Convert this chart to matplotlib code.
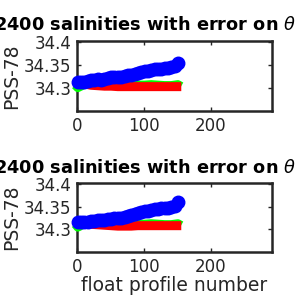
import numpy as np
import matplotlib.pyplot as plt

prof_blue = [1, 6, 11, 16, 21, 26, 31, 36, 41, 46, 51, 56, 61, 66, 71, 76, 81, 86, 91, 96,
             101, 106, 111, 116, 121, 126, 131, 136, 141, 146, 151]
prof_line = [-3, 1, 11, 21, 31, 41, 51, 61, 71, 81, 91, 101, 111, 121, 131, 141, 151, 156]

# top panel
blue_top = [34.313, 34.313, 34.314, 34.315, 34.317, 34.318, 34.320, 34.318, 34.320, 34.322,
            34.323, 34.324, 34.324, 34.325, 34.327, 34.328, 34.329, 34.331, 34.333, 34.335,
            34.337, 34.338, 34.340, 34.341, 34.342, 34.342, 34.343, 34.344, 34.345, 34.348, 34.355]
red_top = [34.313, 34.312, 34.309, 34.306, 34.305, 34.304, 34.304, 34.303, 34.303, 34.303,
           34.303, 34.303, 34.303, 34.303, 34.303, 34.303, 34.303, 34.303]
green_top = [34.306, 34.300, 34.307, 34.307, 34.307, 34.307, 34.307, 34.307, 34.307, 34.307,
             34.307, 34.307, 34.308, 34.307, 34.306, 34.306, 34.308, 34.304]

# bottom panel
blue_bot = [34.315, 34.315, 34.316, 34.317, 34.318, 34.319, 34.320, 34.320, 34.321, 34.322,
            34.323, 34.324, 34.325, 34.326, 34.328, 34.330, 34.332, 34.334, 34.336, 34.338,
            34.340, 34.341, 34.343, 34.344, 34.345, 34.346, 34.347, 34.348, 34.349, 34.352, 34.360]
red_bot = [34.316, 34.315, 34.313, 34.311, 34.310, 34.309, 34.308, 34.307, 34.307, 34.307,
           34.308, 34.308, 34.308, 34.308, 34.308, 34.308, 34.308, 34.308]
green_bot = [34.311, 34.304, 34.312, 34.312, 34.312, 34.312, 34.312, 34.311, 34.311, 34.311,
             34.311, 34.312, 34.313, 34.312, 34.311, 34.311, 34.313, 34.309]

title = '2400 salinities with error on $\\theta$'
ink = '#262626'

fig = plt.figure(figsize=(3, 3), dpi=100)
panels = [
    ([0.257, 0.630, 0.650, 0.233], blue_top, red_top, green_top, 0.917),
    ([0.257, 0.160, 0.650, 0.230], blue_bot, red_bot, green_bot, 0.440),
]

for i, (rect, blue, red, green, ty) in enumerate(panels):
    ax = fig.add_axes(rect)
    ax.plot(prof_line, green, color='#00ff00', lw=6, solid_capstyle='butt', clip_on=False)
    ax.plot(prof_line, red, color='red', lw=6.5, solid_capstyle='butt', clip_on=False)
    ax.plot(prof_blue, blue, 'o-', color='blue', ms=9, lw=6, clip_on=False)
    ax.set_xlim(0, 292)
    ax.set_ylim(34.25, 34.402)
    ax.set_xticks([0, 100, 200])
    ax.set_yticks([34.3, 34.35, 34.4])
    ax.set_yticklabels(['34.3', '34.35', '34.4'])
    ax.tick_params(direction='in', length=3, width=1, colors=ink, labelsize=12,
                   top=True, right=True, pad=4)
    for s in ax.spines.values():
        s.set_color(ink)
        s.set_linewidth(1.8)
        s.set_zorder(1)
    ax.set_ylabel('PSS-78', fontsize=13.5, color=ink, labelpad=2)
    if i == 1:
        ax.set_xlabel('float profile number', fontsize=13.5, color=ink, labelpad=0)
    fig.text(0.987, ty, title, ha='right', va='center', fontsize=12.8,
             fontweight='bold', color='black')

fig.savefig('out.png', dpi=100)
